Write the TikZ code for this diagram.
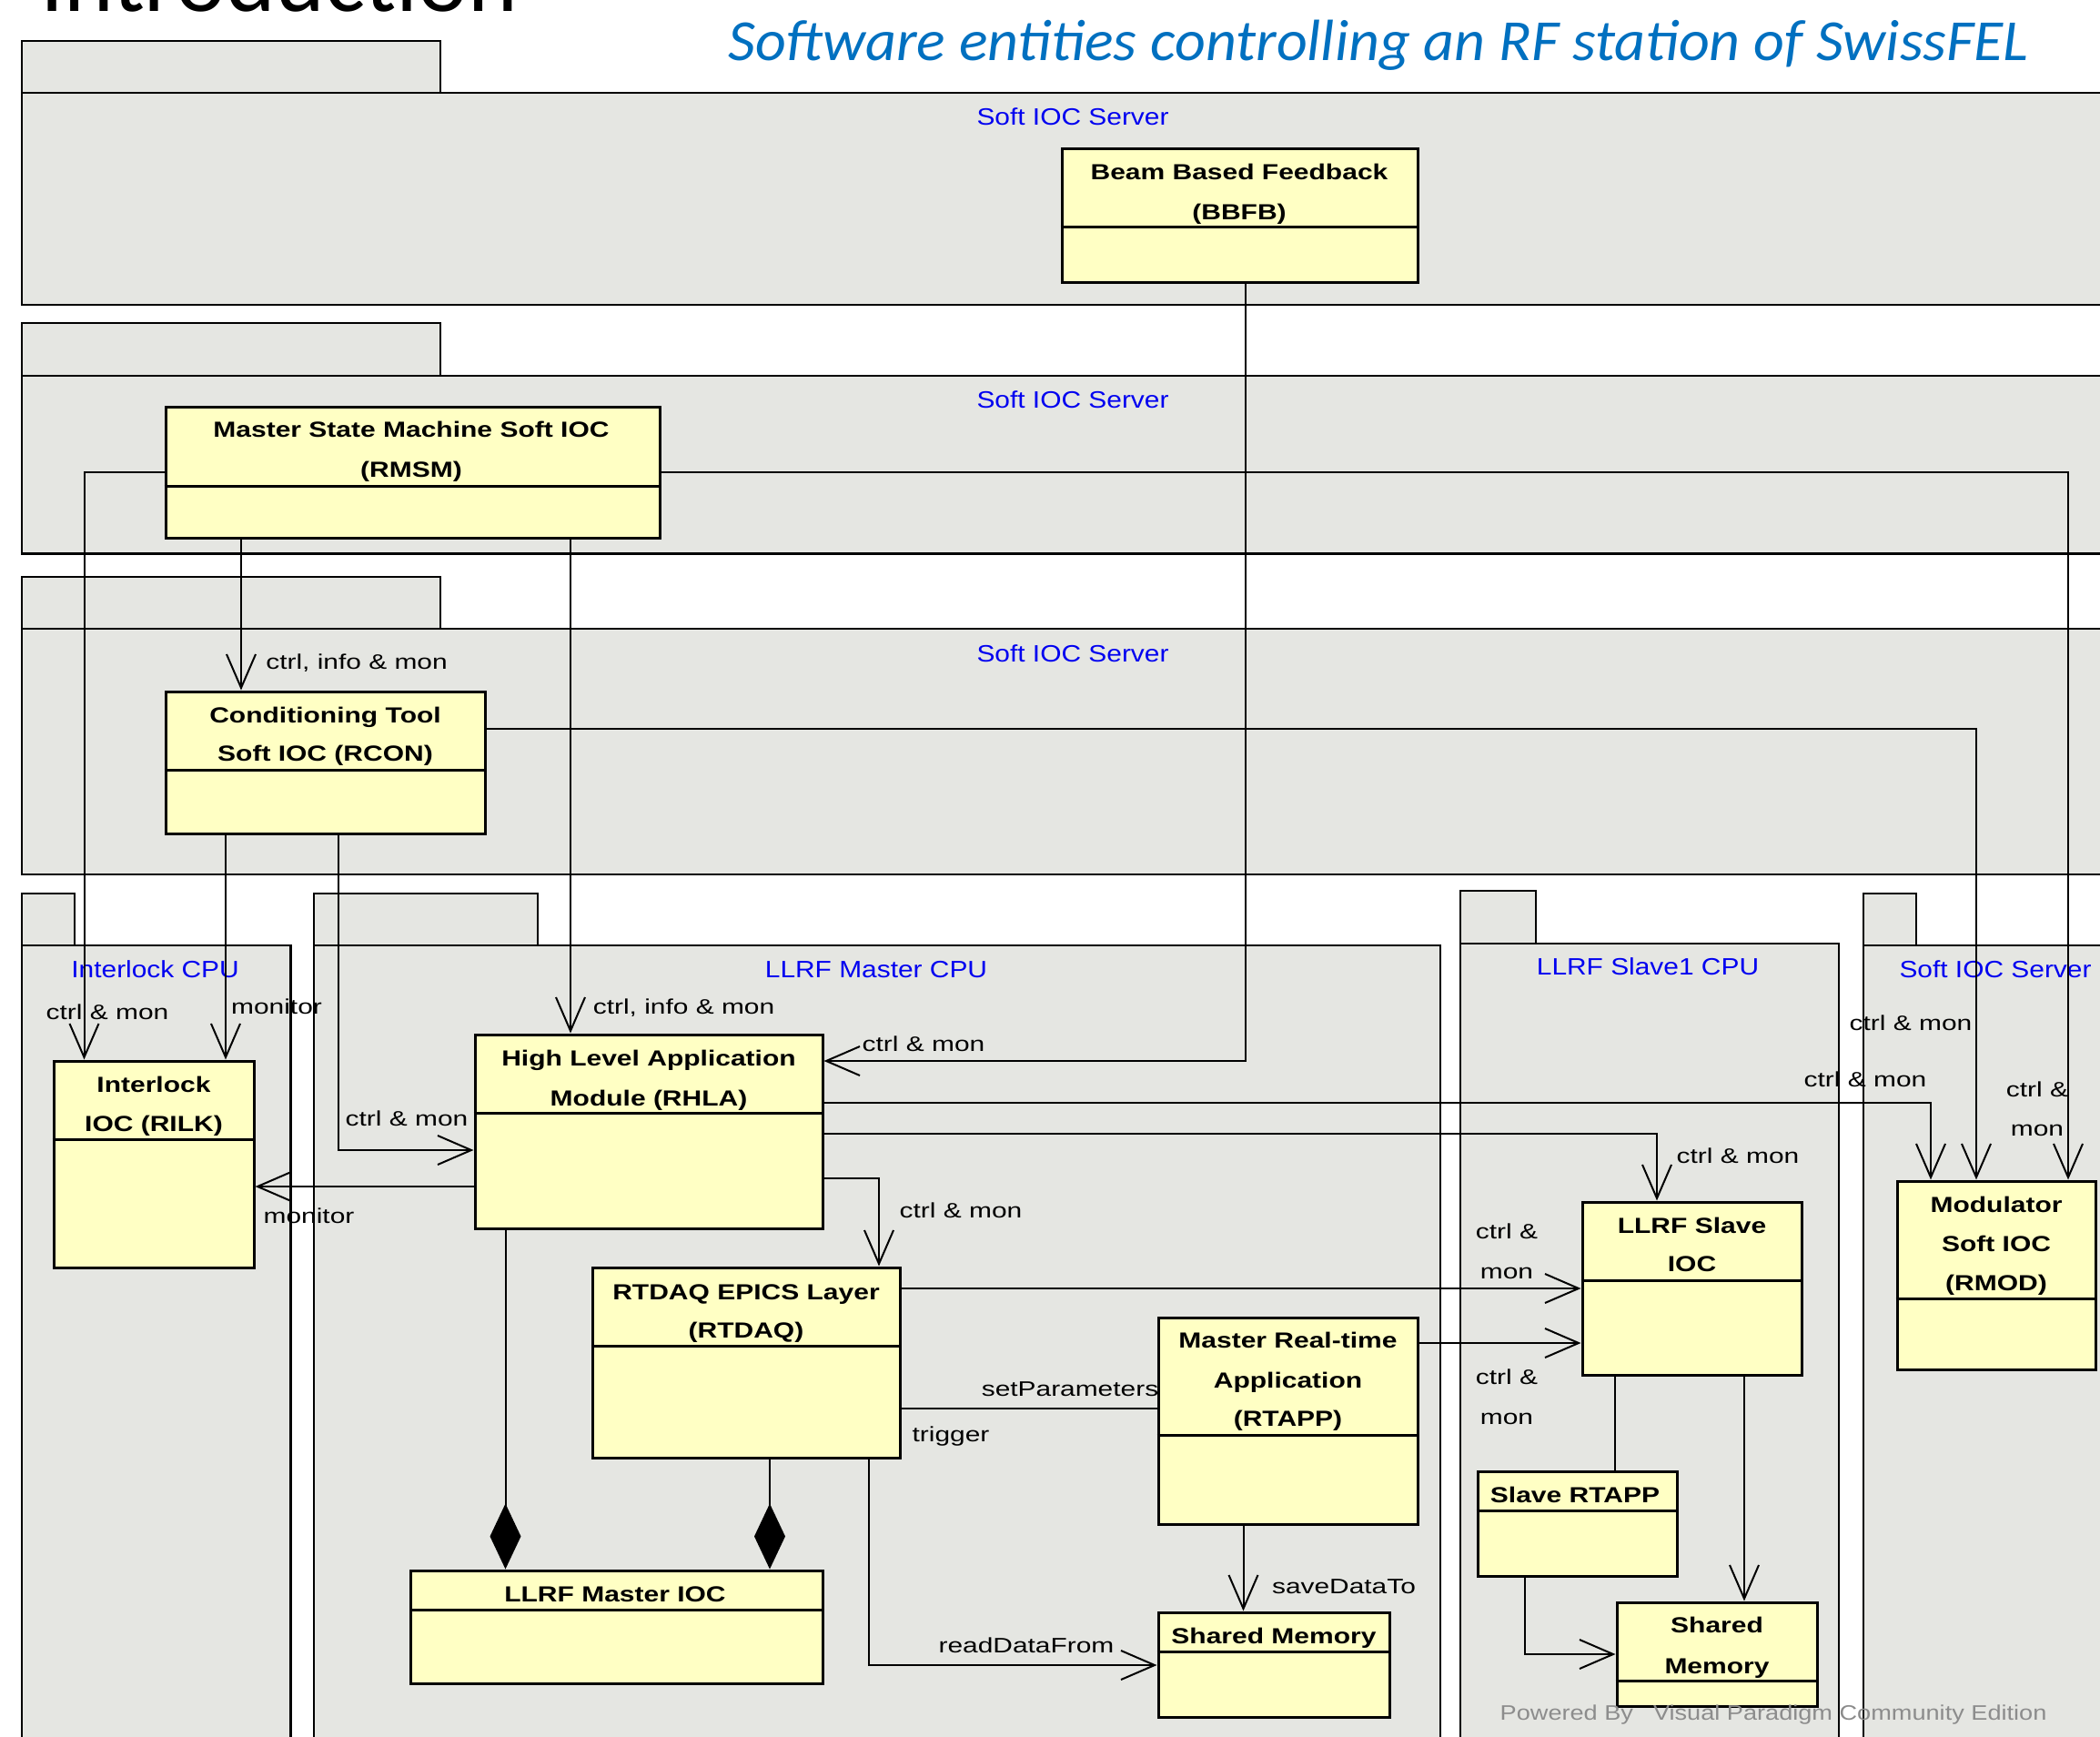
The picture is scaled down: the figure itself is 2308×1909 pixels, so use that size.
\documentclass[tikz,border=0pt]{standalone}
\usepackage{fontspec}
\setmainfont{Liberation Sans}
\newfontfamily\lblfont{Liberation Sans}[FakeStretch=1.3]
\newfontfamily\boxfont{Liberation Sans}[FakeStretch=1.25]
\newfontfamily\pkgfont{Liberation Sans}[FakeStretch=1.15]
\newfontfamily\vpfont{Liberation Sans}[FakeStretch=1.18]
\newfontfamily\titlefont{Carlito}
\newfontfamily\subtitlefont{Carlito}[FakeStretch=1.03]
\usetikzlibrary{arrows.meta,fit}
\definecolor{pkgfill}{RGB}{229,230,226}
\definecolor{boxfill}{RGB}{255,255,196}
\definecolor{lblblue}{RGB}{0,0,240}
\definecolor{titleblue}{RGB}{0,112,192}
\definecolor{vpgrey}{RGB}{140,140,140}
\newcommand\umlclass[6]{%
  \node[umlbox, fit={(#2,#3) (#4,#5)}] (#1) {};
  \draw[line width=3pt] (#1.west |- 0,#6) -- (#1.east |- 0,#6);
}
\newcommand\umlpkg[7]{%
  \draw[pkg] (#2,#3) rectangle (#4,#5);
  \node[pkg, inner sep=0pt, fit={(#2,#5) (#6,#7)}] (#1) {};
}
\begin{document}
\begin{tikzpicture}[x=1pt,y=-1pt,
  pkg/.style={draw=black, fill=pkgfill, line width=2.5pt},
  umlbox/.style={draw=black, fill=boxfill, line width=3pt, inner sep=0pt},
  conn/.style={line width=2pt, -{Straight Barb[length=37pt,width=32pt]}},
  plainconn/.style={line width=2pt},
  dia/.style={line width=2pt, -{Diamond[length=72pt,width=34pt]}},
  boxtxt/.style={font=\boxfont\bfseries\fontsize{24}{28}\selectfont, anchor=base, inner sep=0pt},
  lbl/.style={font=\lblfont\fontsize{23}{27}\selectfont, anchor=base, inner sep=0pt},
  pkglbl/.style={font=\pkgfont\fontsize{26}{30}\selectfont, text=lblblue, anchor=base, inner sep=0pt}]
\fill[white] (0,0) rectangle (2308,1909);
\useasboundingbox (0,0) rectangle (2308,1909);

% titles
\node[anchor=base west, inner sep=0pt, font=\titlefont\fontsize{104}{110}\selectfont] (intro) at (44,12) {Introduction};
\node[anchor=base west, inner sep=0pt, font=\subtitlefont\itshape\fontsize{64}{70}\selectfont, text=titleblue] (title) at (800,66) {Software entities controlling an RF station of SwissFEL};

% packages
\umlpkg{p1}{24}{45}{484}{102}{2330}{335}
\umlpkg{p2}{24}{355}{484}{413}{2330}{608.5}
\umlpkg{p3}{24}{634}{484}{691}{2330}{961}
\umlpkg{p4}{24}{982}{82}{1039}{319.5}{1930}
\umlpkg{p5}{345}{982}{591}{1039}{1583}{1930}
\umlpkg{p6}{1605}{979}{1688}{1037}{2021}{1930}
\umlpkg{p7}{2048}{982}{2106}{1039}{2330}{1930}

\node[pkglbl] (l1) at (1179,137.5) {Soft IOC Server};
\node[pkglbl] (l2) at (1179,448.5) {Soft IOC Server};
\node[pkglbl] (l3) at (1179,727.5) {Soft IOC Server};
\node[pkglbl] (l4) at (170.6,1074.5) {Interlock CPU};
\node[pkglbl] (l5) at (963,1074.5) {LLRF Master CPU};
\node[pkglbl] (l6) at (1811,1071) {LLRF Slave1 CPU};
\node[pkglbl] (l7) at (2193,1074) {Soft IOC Server};

% classes
\umlclass{bbfb}{1167}{163}{1558}{310}{249}
\umlclass{rmsm}{182}{447}{725}{591}{534}
\umlclass{rcon}{182}{760}{533}{916}{846.5}
\umlclass{rilk}{59}{1166}{279}{1393}{1252}
\umlclass{rhla}{522}{1137}{904}{1350}{1223}
\umlclass{rtdaq}{651}{1393}{989}{1602}{1479}
\umlclass{mioc}{451.5}{1726}{904}{1850}{1769}
\umlclass{rtapp}{1273}{1448}{1558}{1675}{1577}
\umlclass{mshm}{1273}{1772}{1527.6}{1887}{1815}
\umlclass{sioc}{1739}{1321}{1980}{1511}{1407}
\umlclass{srtapp}{1624}{1617}{1843}{1732}{1660}
\umlclass{sshm}{1777}{1761}{1997.5}{1875}{1847}
\umlclass{rmod}{2085}{1298}{2303}{1505}{1427}

\node[boxtxt] (t1a) at (1362,197.5) {Beam Based Feedback};
\node[boxtxt] (t1b) at (1362,241.5) {(BBFB)};
\node[boxtxt] (t2a) at (452,480.5) {Master State Machine Soft IOC};
\node[boxtxt] (t2b) at (452,524.5) {(RMSM)};
\node[boxtxt] (t3a) at (357.5,794.5) {Conditioning Tool};
\node[boxtxt] (t3b) at (357.5,836.5) {Soft IOC (RCON)};
\node[boxtxt] (t4a) at (169,1200.5) {Interlock};
\node[boxtxt] (t4b) at (169,1243.5) {IOC (RILK)};
\node[boxtxt] (t5a) at (713,1171.5) {High Level Application};
\node[boxtxt] (t5b) at (713,1215.5) {Module (RHLA)};
\node[boxtxt] (t6a) at (820,1428.5) {RTDAQ EPICS Layer};
\node[boxtxt] (t6b) at (820,1470.5) {(RTDAQ)};
\node[boxtxt] (t7) at (676,1760.5) {LLRF Master IOC};
\node[boxtxt] (t8a) at (1415.5,1481.5) {Master Real-time};
\node[boxtxt] (t8b) at (1415.5,1525.5) {Application};
\node[boxtxt] (t8c) at (1415.5,1567.5) {(RTAPP)};
\node[boxtxt] (t9) at (1400,1806.5) {Shared Memory};
\node[boxtxt] (t10a) at (1859.5,1355.5) {LLRF Slave};
\node[boxtxt] (t10b) at (1859.5,1397.5) {IOC};
\node[boxtxt] (t11) at (1731,1651.5) {Slave RTAPP};
\node[boxtxt] (t12a) at (1887,1794.5) {Shared};
\node[boxtxt] (t12b) at (1887,1839.5) {Memory};
\node[boxtxt] (t13a) at (2194,1332.5) {Modulator};
\node[boxtxt] (t13b) at (2194,1375.5) {Soft IOC};
\node[boxtxt] (t13c) at (2194,1418.5) {(RMOD)};

% connectors
\draw[conn] (bbfb.south -| 1369,0) |- (rhla.east |- 0,1166);
\draw[conn] (rmsm.west |- 0,519) -| (rilk.north -| 92.5,0);
\draw[conn] (rmsm.east |- 0,519) -| (rmod.north -| 2273,0);
\draw[conn] (rmsm.south -| 265,0) -- (rcon.north -| 265,0);
\draw[conn] (rmsm.south -| 627,0) -- (rhla.north -| 627,0);
\draw[conn] (rcon.east |- 0,801) -| (rmod.north -| 2172,0);
\draw[conn] (rcon.south -| 248,0) -- (rilk.north -| 248,0);
\draw[conn] (rcon.south -| 372,0) |- (rhla.west |- 0,1264);
\draw[conn] (rhla.west |- 0,1304) -- (rilk.east |- 0,1304);
\draw[conn] (rhla.east |- 0,1212) -| (rmod.north -| 2122,0);
\draw[conn] (rhla.east |- 0,1246) -| (sioc.north -| 1821,0);
\draw[conn] (rhla.east |- 0,1295) -| (rtdaq.north -| 966,0);
\draw[dia] (rhla.south -| 555.5,0) -- (mioc.north -| 555.5,0);
\draw[dia] (rtdaq.south -| 846,0) -- (mioc.north -| 846,0);
\draw[conn] (rtdaq.east |- 0,1416) -- (sioc.west |- 0,1416);
\draw[conn] (rtapp.east |- 0,1476) -- (sioc.west |- 0,1476);
\draw[plainconn] (rtdaq.east |- 0,1548) -- (rtapp.west |- 0,1548);
\draw[conn] (rtdaq.south -| 955,0) |- (mshm.west |- 0,1830);
\draw[conn] (rtapp.south -| 1366.5,0) -- (mshm.north -| 1366.5,0);
\draw[plainconn] (sioc.south -| 1775,0) -- (srtapp.north -| 1775,0);
\draw[conn] (sioc.south -| 1917,0) -- (sshm.north -| 1917,0);
\draw[conn] (srtapp.south -| 1676,0) |- (sshm.west |- 0,1818);

% connector labels
\node[lbl] (c1) at (392,735) {ctrl, info \& mon};
\node[lbl] (c2) at (118,1120) {ctrl \& mon};
\node[lbl] (c3) at (304,1114) {monitor};
\node[lbl] (c4) at (751.5,1114) {ctrl, info \& mon};
\node[lbl] (c5) at (447,1237) {ctrl \& mon};
\node[lbl] (c6) at (339.5,1344) {monitor};
\node[lbl] (c7) at (1015,1155) {ctrl \& mon};
\node[lbl] (c8) at (1056,1338) {ctrl \& mon};
\node[lbl] (c9) at (1910,1278) {ctrl \& mon};
\node[lbl] (c10a) at (1656,1361) {ctrl \&};
\node[lbl] (c10b) at (1656,1405) {mon};
\node[lbl] (c11a) at (1656,1521) {ctrl \&};
\node[lbl] (c11b) at (1656,1565) {mon};
\node[lbl] (c12) at (1176,1534) {setParameters};
\node[lbl] (c13) at (1045,1584) {trigger};
\node[lbl] (c14) at (1128,1816) {readDataFrom};
\node[lbl] (c15) at (1477,1751) {saveDataTo};
\node[lbl] (c16) at (2100,1132) {ctrl \& mon};
\node[lbl] (c17) at (2050,1194) {ctrl \& mon};
\node[lbl] (c18a) at (2239,1205) {ctrl \&};
\node[lbl] (c18b) at (2239,1248) {mon};

\node[anchor=base west, inner sep=0pt, text=vpgrey, font=\vpfont\fontsize{23}{27}\selectfont] (vp) at (1648.5,1890) {Powered By\hspace{22pt}Visual Paradigm Community Edition};
\end{tikzpicture}
\end{document}
